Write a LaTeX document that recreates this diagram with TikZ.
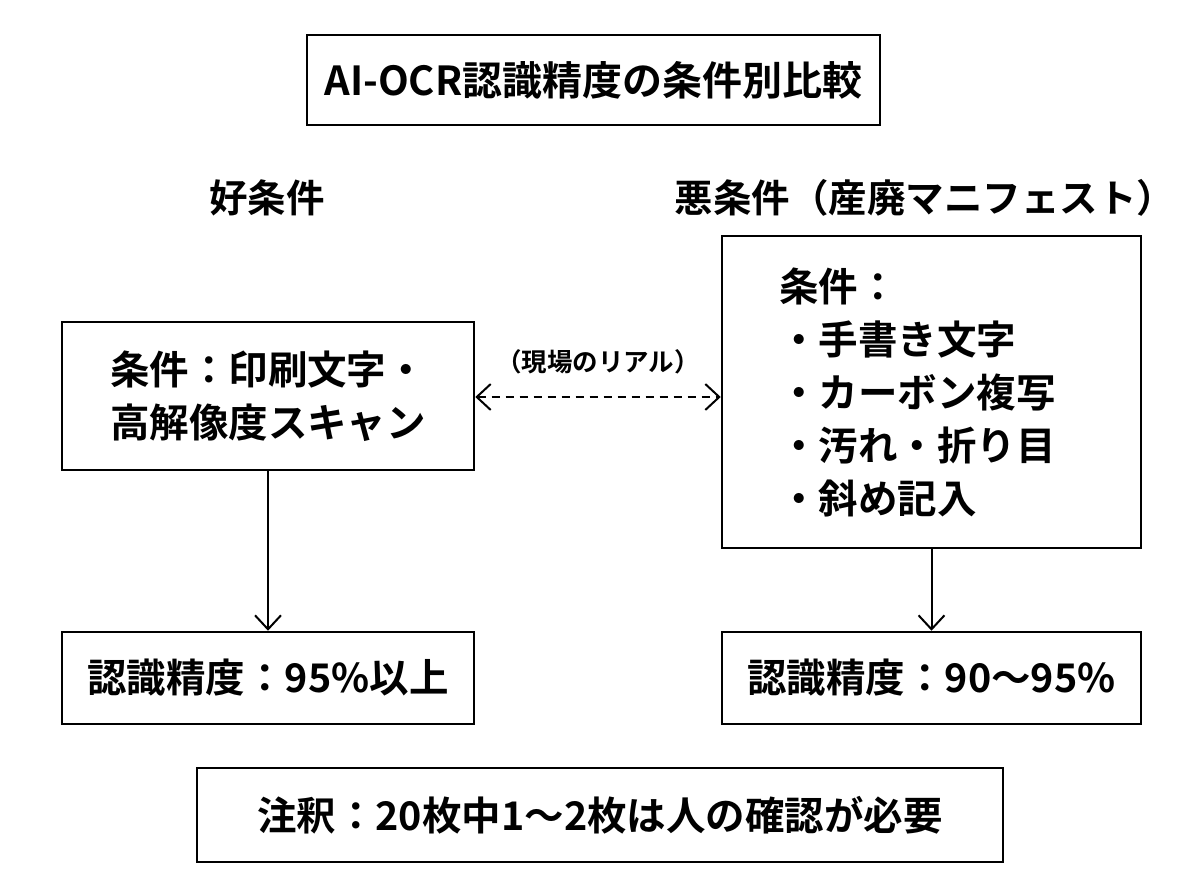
\documentclass[tikz,border=0pt]{standalone}
\usepackage{fontspec}
\setmainfont{Noto Sans CJK JP}[BoldFont={* Bold}]
\usetikzlibrary{arrows.meta}
\tikzset{
  box/.style={draw=black, line width=2.5pt, inner sep=0pt, font=\bfseries\fontsize{39.5}{53}\selectfont},
  conn/.style={draw=black, line width=2pt, -{Straight Barb[length=14pt,width=26pt,line width=2pt]}},
  hdr/.style={font=\bfseries\fontsize{38.5}{44}\selectfont, inner sep=0pt},
  lbl/.style={font=\bfseries\fontsize{25.5}{28}\selectfont, inner sep=0pt}
}
\begin{document}
\begin{tikzpicture}[x=1pt,y=-1pt]
\useasboundingbox (0,0) rectangle (1200,896);
\node[box, minimum width=573pt, minimum height=90pt, font=\bfseries\fontsize{40}{46}\selectfont] (title) at (593.5,80) {AI-OCR認識精度の条件別比較};
\node[hdr] (good) at (267,198) {好条件};
\node[hdr] (bad) at (925,198) {悪条件（産廃マニフェスト）};
\node[box, minimum width=412pt, minimum height=148pt, align=center] (gbox) at (268,396) {条件：印刷文字・\\高解像度スキャン};
\node[box, text width=305pt, inner xsep=57pt, minimum height=312pt, align=left] (bbox) at (931.5,392) {条件：\\・手書き文字\\・カーボン複写\\・汚れ・折り目\\・斜め記入};
\node[box, minimum width=412pt, minimum height=92pt] (gres) at (268,678) {認識精度：95\%以上};
\node[box, minimum width=419pt, minimum height=92pt] (bres) at (931.5,678) {認識精度：90〜95\%};
\node[box, minimum width=806pt, minimum height=94pt] (note) at (600,815) {注釈：20枚中1〜2枚は人の確認が必要};
\draw[conn] (gbox.south) -- (gres.north);
\draw[conn] (bbox.south) -- (bres.north);
\draw[conn, {Straight Barb[length=14pt,width=26pt,line width=2pt]}-{Straight Barb[length=14pt,width=26pt,line width=2pt]}, dash pattern=on 8pt off 6pt] (gbox.east |- 0,397) -- node[lbl, above=22pt] (real) {（現場のリアル）} (bbox.west |- 0,397);
\end{tikzpicture}
\end{document}
